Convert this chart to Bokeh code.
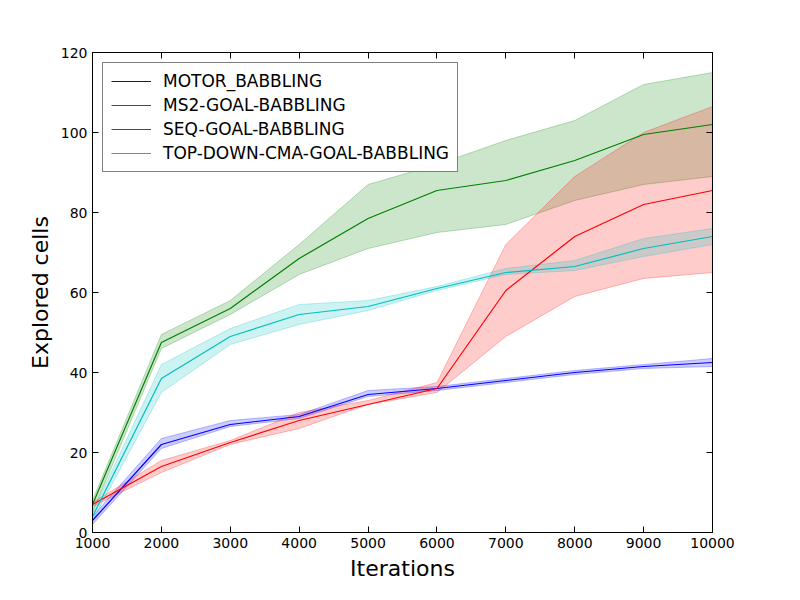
from bokeh.plotting import figure
from bokeh.models import LinearAxis, FixedTicker, Range1d
from bokeh.embed import file_html
from bokeh.resources import INLINE

iters = [1000, 2000, 3000, 4000, 5000, 6000, 7000, 8000, 9000, 10000]

motor = [3, 22, 27, 29, 34.5, 36, 38, 40, 41.5, 42.5]
motor_lo = [2, 21, 26.5, 28.5, 34, 35.5, 37.5, 39.5, 41, 41.5]
motor_hi = [4, 23.5, 28, 29.5, 35.5, 36.5, 38.5, 40.5, 42, 43.5]

ms2 = [7, 47.5, 56, 68.5, 78.5, 85.5, 88, 93, 99.5, 102]
ms2_lo = [5, 46, 54.5, 64.5, 71, 75, 77, 83, 87, 89]
ms2_hi = [8, 49.5, 58, 72, 87, 92, 98, 103, 112, 115]

seq = [7, 16.5, 22.5, 28, 32, 36, 60.5, 74, 82, 85.5]
seq_lo = [6.5, 15, 22, 26, 32, 35, 49, 59, 63.5, 65]
seq_hi = [7.5, 18, 23, 30, 33, 37.5, 72, 89, 100, 106.5]

topdown = [4, 38.5, 49, 54.5, 56.5, 61, 65, 66.5, 71, 74]
topdown_lo = [3, 35, 47, 52, 55.5, 60.5, 64.5, 65.5, 69, 72]
topdown_hi = [5, 42, 51, 57, 58, 61.5, 66, 68, 73.5, 76]

series = [
    ("MOTOR_BABBLING", motor, motor_lo, motor_hi, "#0000ff"),
    ("MS2-GOAL-BABBLING", ms2, ms2_lo, ms2_hi, "#008000"),
    ("SEQ-GOAL-BABBLING", seq, seq_lo, seq_hi, "#ff0000"),
    ("TOP-DOWN-CMA-GOAL-BABBLING", topdown, topdown_lo, topdown_hi, "#00bfbf"),
]

p = figure(width=784, height=584, output_backend="svg", toolbar_location=None,
           x_range=Range1d(1000, 10000), y_range=Range1d(0, 120),
           min_border_left=92, min_border_right=72, min_border_top=52, min_border_bottom=52)
p.grid.visible = False
p.outline_line_color = "black"

font = "DejaVu Sans"
for ax in (p.xaxis[0], p.yaxis[0]):
    ax.major_tick_in = 6
    ax.major_tick_out = 0
    ax.minor_tick_line_color = None
    ax.axis_line_color = "black"
    ax.major_tick_line_color = "black"
    ax.major_label_text_color = "black"
    ax.major_label_text_font = font
    ax.major_label_text_font_size = "14px"
    ax.axis_label_text_color = "black"
    ax.axis_label_text_font = font
    ax.axis_label_text_font_size = "22px"
    ax.axis_label_text_font_style = "normal"
p.xaxis.ticker = FixedTicker(ticks=iters)
p.yaxis.ticker = FixedTicker(ticks=[0, 20, 40, 60, 80, 100, 120])
p.xaxis.axis_label = "Iterations"
p.yaxis.axis_label = "Explored cells"

for loc, ticks in (("right", [0, 20, 40, 60, 80, 100, 120]), ("above", iters)):
    a = LinearAxis(ticker=FixedTicker(ticks=ticks), major_tick_in=6, major_tick_out=0,
                   minor_tick_line_color=None, major_tick_line_color="black",
                   axis_line_color="black",
                   major_label_overrides={t: "" for t in ticks})
    p.add_layout(a, loc)

for name, mid, lo, hi, col in series:
    p.varea(x=iters, y1=lo, y2=hi, fill_color=col, fill_alpha=0.2)
    p.line(iters, lo, line_color=col, line_alpha=0.25)
    p.line(iters, hi, line_color=col, line_alpha=0.25)

for name, mid, lo, hi, col in series:
    p.line(iters, mid, line_color=col, line_width=1.2, legend_label=name)

lg = p.legend[0]
lg.location = "top_left"
lg.label_text_font = font
lg.label_text_font_size = "17px"
lg.label_text_color = "black"
lg.border_line_color = "black"
lg.glyph_width = 40
lg.spacing = 4
lg.padding = 8
lg.margin = 10
lg.label_standoff = 12

open("out.html", "w").write(file_html(p, INLINE))
